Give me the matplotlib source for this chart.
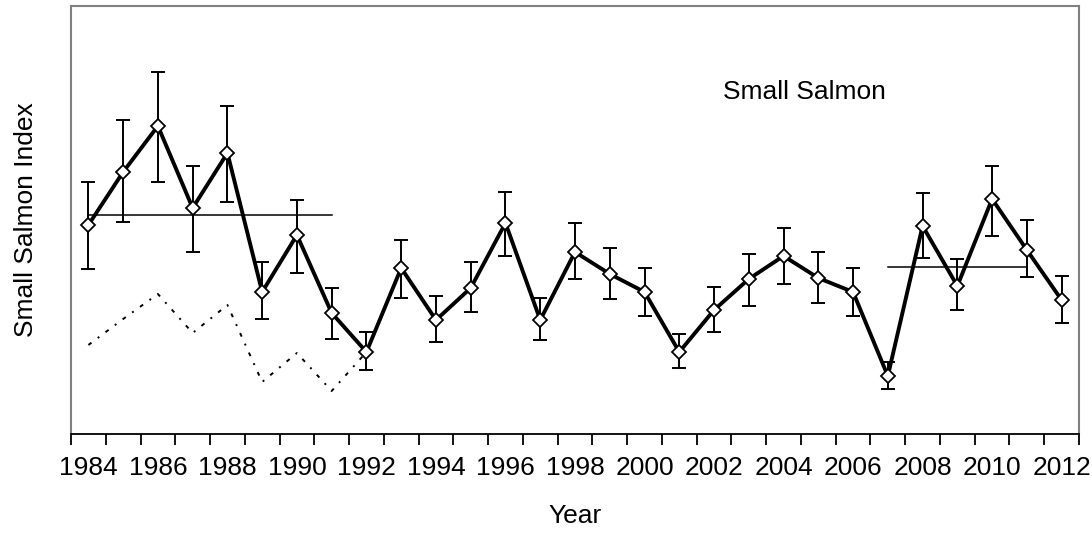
"""
Small salmon index with error bars, period means and an older index (dotted)
"""

import matplotlib
matplotlib.use('Agg')
import matplotlib.pyplot as plt
from matplotlib.ticker import MultipleLocator, FixedLocator
plt.rcParams['font.family'] = ['Liberation Sans', 'DejaVu Sans']

# Data (index units)
years = list(range(1984, 2013))
index = [2.09, 2.62, 3.08, 2.26, 2.81, 1.42, 1.99, 1.21, 0.82, 1.66,
         1.14, 1.46, 2.11, 1.14, 1.82, 1.60, 1.42, 0.82, 1.24, 1.55,
         1.78, 1.56, 1.42, 0.58, 2.08, 1.48, 2.35, 1.84, 1.34]
upper = [2.52, 3.14, 3.62, 2.68, 3.28, 1.72, 2.34, 1.46, 1.02, 1.94,
         1.38, 1.72, 2.42, 1.36, 2.11, 1.86, 1.66, 1.00, 1.47, 1.80,
         2.06, 1.82, 1.66, 0.72, 2.41, 1.75, 2.68, 2.14, 1.58]
lower = [1.65, 2.12, 2.52, 1.82, 2.32, 1.15, 1.61, 0.95, 0.64, 1.36,
         0.92, 1.22, 1.78, 0.94, 1.55, 1.35, 1.18, 0.66, 1.02, 1.28,
         1.50, 1.31, 1.18, 0.45, 1.76, 1.24, 1.98, 1.57, 1.11]

old_years = list(range(1984, 1993))
old_index = [0.89, 1.15, 1.40, 1.01, 1.29, 0.52, 0.81, 0.43, 0.82]

mean_periods = [(1984, 1991), (2007, 2011)]
mean_levels = [2.19, 1.67]

err_low = [v - lo for v, lo in zip(index, lower)]
err_high = [hi - v for v, hi in zip(index, upper)]

fig = plt.figure(figsize=(10.92, 5.35), dpi=100)
ax = fig.add_axes([71 / 1092, 101 / 535, 1008 / 1092, 428 / 535])

# period means
for (y0, y1), level in zip(mean_periods, mean_levels):
    ax.plot([y0, y1], [level, level], color='black', linewidth=1.1, zorder=2)

# older index, dotted
ax.plot(old_years, old_index, color='black', linewidth=1.4,
        linestyle=(0, (2, 4, 1, 4)), zorder=2)

# main series
ax.errorbar(years, index, yerr=[err_low, err_high], fmt='none',
            ecolor='black', elinewidth=1.4, capsize=5, capthick=1.4, zorder=3)
ax.plot(years, index, color='black', linewidth=2.8, marker='D',
        markersize=7.5, markerfacecolor='white', markeredgecolor='black',
        markeredgewidth=1.3, zorder=4)

ax.text(2004.6, 3.42, 'Small Salmon', fontsize=19, ha='center', va='center')

ax.set_xlim(1983.5, 2012.5)
ax.set_ylim(0, 4.28)
ax.xaxis.set_major_locator(MultipleLocator(2))
ax.xaxis.set_minor_locator(FixedLocator([y - 0.5 for y in years] + [2012.5]))
ax.tick_params(axis='x', which='major', length=0, labelsize=19, pad=16)
ax.tick_params(axis='x', which='minor', length=8, width=1.3, color='black')
ax.set_yticks([])

for side in ['left', 'right', 'top']:
    ax.spines[side].set_color('#808080')
    ax.spines[side].set_linewidth(1.5)
ax.spines['bottom'].set_color('black')
ax.spines['bottom'].set_linewidth(1.3)

ax.set_xlabel('Year', fontsize=19, labelpad=17)
ax.set_ylabel('Small Salmon Index', fontsize=19, labelpad=24)

plt.savefig('out.png', dpi=100)
plt.close()
